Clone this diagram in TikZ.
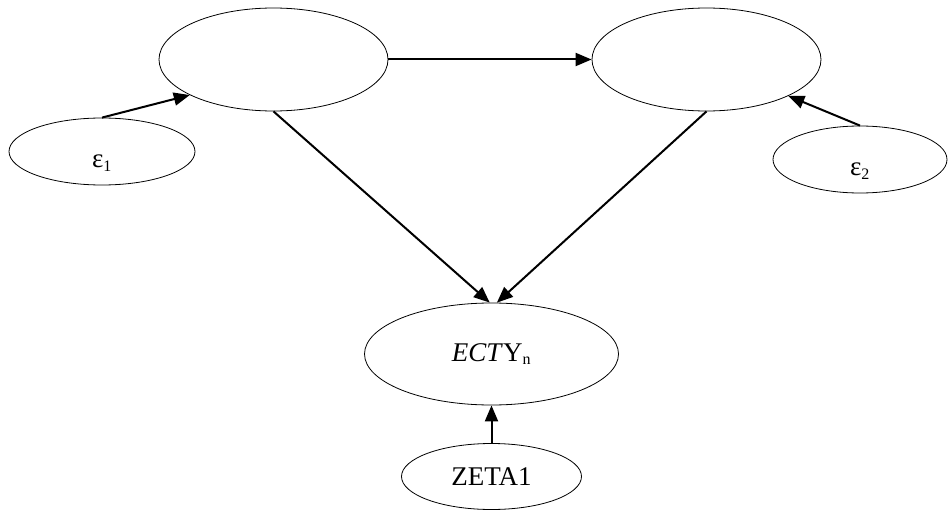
\documentclass[tikz,border=0pt]{standalone}
\usepackage{fontspec}
\setmainfont{Liberation Serif}
\usetikzlibrary{shapes.geometric,arrows.meta}
\newcommand{\lowtext}[2]{\smash{\raisebox{#1}{#2}}}
\begin{document}
\begin{tikzpicture}[x=1pt,y=-1pt,
  latent/.style={draw, ellipse, line width=0.8pt, inner sep=0pt, font=\fontsize{27}{30}\selectfont},
  path/.style={line width=2pt, -{Triangle[length=16pt,width=13pt]}}]
  \useasboundingbox (0,0) rectangle (948,511);
  % latent variables
  \node[latent, minimum width=229pt, minimum height=103pt] (tl) at (273.5,59.5) {};
  \node[latent, minimum width=229pt, minimum height=103pt] (tr) at (706.5,59.5) {};
  \node[latent, minimum width=254pt, minimum height=102pt] (ecty) at (491.5,354) {\textit{ECT}Y\textsubscript{\fontsize{16}{18}\selectfont n}};
  % error terms
  \node[latent, minimum width=186pt, minimum height=67pt] (e1) at (102,151.5) {\lowtext{-16pt}{ε\textsubscript{\fontsize{16}{18}\selectfont 1}}};
  \node[latent, minimum width=174pt, minimum height=67pt] (e2) at (860,159.5) {\lowtext{-16pt}{ε\textsubscript{\fontsize{16}{18}\selectfont 2}}};
  \node[latent, minimum width=180pt, minimum height=66pt] (z1) at (491.5,476.5) {ZETA1};
  % structural paths
  \draw[path] (tl.east) -- (tr.west);
  \draw[path] (tl.south) -- (ecty.92);
  \draw[path] (tr.south) -- (ecty.84);
  \draw[path] (e1.north) -- (tl.203.5);
  \draw[path] (e2.north) -- (tr.336);
  \draw[path] (z1.north) -- (ecty.south);
\end{tikzpicture}
\end{document}
